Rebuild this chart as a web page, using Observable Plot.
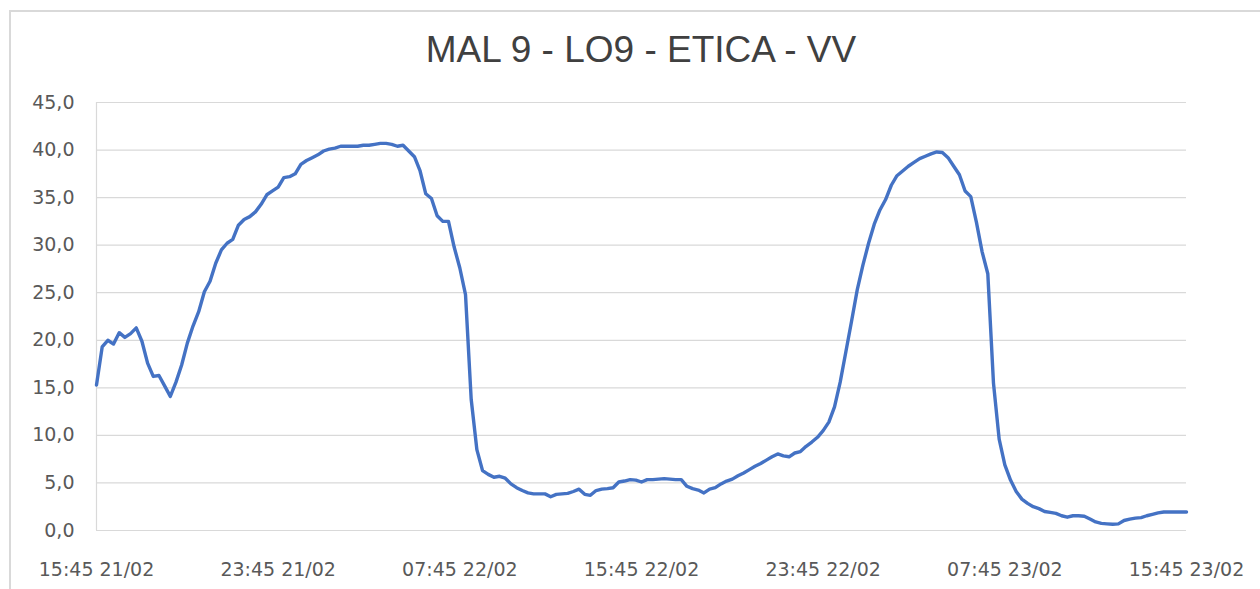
<!DOCTYPE html>
<html><head><meta charset="utf-8">
<script src="https://cdn.jsdelivr.net/npm/d3@7"></script>
<script src="https://cdn.jsdelivr.net/npm/@observablehq/plot@0.6"></script>
<style>
html,body{margin:0;padding:0;background:#fff;}
#wrap{position:relative;width:1260px;height:589px;overflow:hidden;background:#fff;}
#frame{position:absolute;left:9px;top:10px;width:1400px;height:800px;border-top:2px solid #d9d9d9;border-left:2px solid #d9d9d9;box-sizing:border-box;}
#title{position:absolute;left:0;top:30px;width:1282px;height:40px;line-height:40px;text-align:center;font-family:"Liberation Sans",Arial,sans-serif;font-size:37px;color:#404040;white-space:nowrap;}
#chart{position:absolute;left:0;top:80px;}
</style></head><body>
<div id="wrap"><div id="frame"></div><div id="title"></div><div id="chart"></div></div>
<script>
const title = "MAL 9 - LO9 - ETICA - VV";
const startLabel = "15:45 21/02";
const stepMinutes = 15;
const values = [
  15.3, 19.3, 20.0, 19.6, 20.8, 20.3, 20.7, 21.3, 19.9, 17.6,
  16.2, 16.3, 15.2, 14.1, 15.6, 17.4, 19.7, 21.5, 23.0, 25.1,
  26.2, 28.1, 29.5, 30.2, 30.6, 32.1, 32.7, 33.0, 33.5, 34.3,
  35.3, 35.7, 36.1, 37.1, 37.2, 37.5, 38.5, 38.9, 39.2, 39.5,
  39.9, 40.1, 40.2, 40.4, 40.4, 40.4, 40.4, 40.5, 40.5, 40.6,
  40.7, 40.7, 40.6, 40.4, 40.5, 39.9, 39.3, 37.8, 35.4, 34.9,
  33.1, 32.5, 32.5, 29.8, 27.6, 24.8, 13.8, 8.5, 6.3, 5.9,
  5.6, 5.7, 5.5, 4.9, 4.5, 4.2, 3.95, 3.85, 3.85, 3.85,
  3.55, 3.8, 3.85, 3.9, 4.1, 4.35, 3.8, 3.7, 4.2, 4.35,
  4.4, 4.5, 5.1, 5.2, 5.35, 5.3, 5.1, 5.35, 5.35, 5.4,
  5.45, 5.4, 5.35, 5.35, 4.65, 4.4, 4.25, 3.95, 4.35, 4.5,
  4.9, 5.2, 5.4, 5.75, 6.05, 6.4, 6.75, 7.05, 7.4, 7.75,
  8.05, 7.85, 7.75, 8.15, 8.3, 8.85, 9.3, 9.8, 10.5, 11.4,
  13.0, 15.6, 18.8, 22.0, 25.3, 27.9, 30.2, 32.2, 33.7, 34.8,
  36.3, 37.3, 37.8, 38.3, 38.7, 39.1, 39.35, 39.6, 39.8, 39.75,
  39.2, 38.3, 37.4, 35.7, 35.1, 32.4, 29.3, 27.0, 15.5, 9.6,
  6.9, 5.3, 4.1, 3.3, 2.85, 2.5, 2.3, 2.0, 1.9, 1.8,
  1.55, 1.4, 1.55, 1.55, 1.5, 1.2, 0.9, 0.75, 0.7, 0.65,
  0.7, 1.05, 1.2, 1.3, 1.35, 1.55, 1.7, 1.85, 1.95, 1.95,
  1.95, 1.95, 1.95
];
const xTickLabels = ["15:45 21/02", "23:45 21/02", "07:45 22/02", "15:45 22/02", "23:45 22/02", "07:45 23/02", "15:45 23/02"];
const yTicks = [0, 5, 10, 15, 20, 25, 30, 35, 40, 45];
const yTickLabels = ["0,0", "5,0", "10,0", "15,0", "20,0", "25,0", "30,0", "35,0", "40,0", "45,0"];

document.getElementById("title").textContent = title;

const parse = d3.utcParse("%H:%M %d/%m");
const t0 = parse(startLabel);
const data = values.map((v, i) => ({t: new Date(+t0 + i * stepMinutes * 60000), v}));
const xTicks = xTickLabels.map(parse);
const xFmt = new Map(xTickLabels.map(s => [+parse(s), s]));
const yFmt = new Map(yTicks.map((v, i) => [v, yTickLabels[i]]));

const chart = Plot.plot({
  width: 1260, height: 509,
  marginLeft: 96, marginRight: 74, marginTop: 22, marginBottom: 59,
  style: {fontFamily: "'DejaVu Sans', sans-serif", fontSize: "19px", color: "#595959", background: "transparent", overflow: "visible"},
  x: {type: "utc", domain: [t0, xTicks[xTicks.length - 1]], label: null},
  y: {domain: [0, 45], label: null},
  marks: [
    Plot.ruleY(yTicks, {stroke: "#d9d9d9", strokeWidth: 1.2}),
    Plot.ruleX([t0], {y1: 0, y2: 45, stroke: "#d9d9d9", strokeWidth: 1.2}),
    Plot.line(data, {x: "t", y: "v", stroke: "#4472C4", strokeWidth: 3.4, strokeLinejoin: "round", strokeLinecap: "round"}),
    Plot.axisX({ticks: xTicks, tickFormat: d => xFmt.get(+d), tickSize: 0, tickPadding: 32, fontSize: 19, label: null}),
    Plot.axisY({ticks: yTicks, tickFormat: d => yFmt.get(d), tickSize: 0, tickPadding: 22, fontSize: 19, label: null})
  ]
});
document.getElementById("chart").appendChild(chart);
</script>
</body></html>
